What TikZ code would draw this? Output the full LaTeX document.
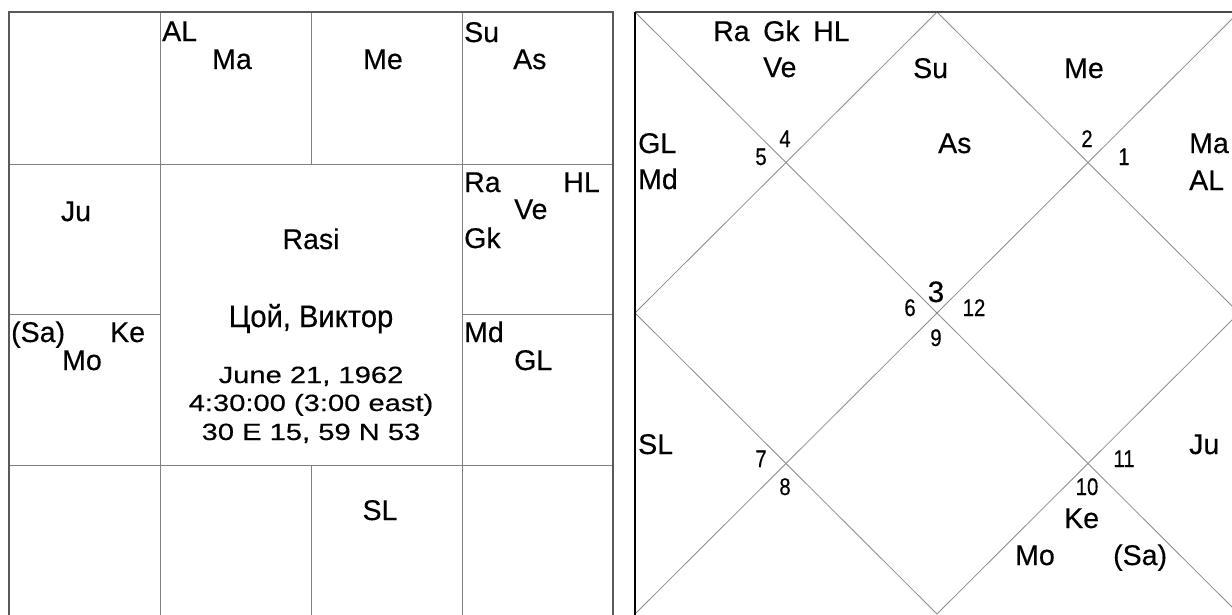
\documentclass[tikz,border=0pt]{standalone}
\usepackage{fontspec}
\setmainfont[FakeBold=0.35]{Liberation Sans}
\usepackage{graphicx}
\newcommand\nmbr[1]{\scalebox{0.85}[1]{#1}}
\newcommand\widetxt[1]{\scalebox{1.24}[1]{#1}}
\newcommand\nametxt[1]{\scalebox{0.94}[1]{#1}}
\tikzset{
  pl/.style={font=\fontsize{28.5}{30}\selectfont, inner sep=0pt, anchor=base west},
  plc/.style={font=\fontsize{28.5}{30}\selectfont, inner sep=0pt, anchor=base},
  plr/.style={font=\fontsize{28.5}{30}\selectfont, inner sep=0pt, anchor=base east},
  num/.style={font=\fontsize{24}{25}\selectfont, inner sep=0pt, anchor=base},
  bignum/.style={font=\fontsize{29.5}{31}\selectfont, inner sep=0pt, anchor=base},
  info/.style={font=\fontsize{23.5}{25}\selectfont, inner sep=0pt, anchor=base},
  namestyle/.style={font=\fontsize{31}{32}\selectfont, inner sep=0pt, anchor=base},
  gridline/.style={draw=black!50, line width=1pt},
  frameline/.style={draw=black!65, line width=2.6pt},
  diagline/.style={draw=black!45, line width=0.8pt},
}
\begin{document}
\begin{tikzpicture}[x=1pt,y=-1pt]
\useasboundingbox (0,0) rectangle (1232,614);
\fill[white] (0,0) rectangle (1232,614);
\begin{scope}
\clip (0,0) rectangle (1232,614);
% ---------- left chart (Rasi, square) ----------
\draw[gridline] (160,12) -- (160,616);
\draw[gridline] (462,12) -- (462,616);
\draw[gridline] (311,12) -- (311,164);
\draw[gridline] (311,465) -- (311,616);
\draw[gridline] (9,164) -- (613,164);
\draw[gridline] (9,465) -- (613,465);
\draw[gridline] (9,314) -- (160,314);
\draw[gridline] (462,314) -- (613,314);
\draw[frameline] (9,12) rectangle (613,616);
% ---------- right chart (diamond) ----------
\coordinate (tl) at (635,12);
\coordinate (tr) at (1239,12);
\coordinate (bl) at (635,614);
\coordinate (br) at (1239,614);
\coordinate (tm) at (937,12);
\coordinate (lm) at (635,313);
\coordinate (bm) at (937,614);
\coordinate (rm) at (1239,313);
\draw[diagline] (tl) -- (br);
\draw[diagline] (bl) -- (tr);
\draw[diagline] (tm) -- (lm) -- (bm) -- (rm) -- cycle;
\draw[draw=black!70, line width=2.4pt] (tl) -- (tr);
\draw[draw=black, line width=2pt] (634.5,12) -- (634.5,615);
\end{scope}
% ---------- left chart labels ----------
\node[pl] (lAL) at (162,41) {AL};
\node[pl] (lMa) at (212,69) {Ma};
\node[plc] (lMe) at (383,69) {Me};
\node[pl] (lSu) at (464,42) {Su};
\node[pl] (lAs) at (513,69) {As};
\node[plc] (lJu) at (76,221) {Ju};
\node[pl] (lSa) at (11,342) {(Sa)};
\node[pl] (lKe) at (110,342) {Ke};
\node[pl] (lMo) at (62,370) {Mo};
\node[pl] (lRa) at (464,192) {Ra};
\node[plr] (lHL) at (600,192) {HL};
\node[pl] (lVe) at (514,219) {Ve};
\node[pl] (lGk) at (464,248) {Gk};
\node[pl] (lMd) at (464,342) {Md};
\node[pl] (lGL) at (514,370) {GL};
\node[plc] (lSL) at (380,520) {SL};
\node[plc] (rasi) at (311,249) {Rasi};
\node[namestyle] (name) at (311,327) {\nametxt{Цой, Виктор}};
\node[info] (date) at (311,383) {\widetxt{June 21, 1962}};
\node[info] (time) at (311,411) {\widetxt{4:30:00 (3:00 east)}};
\node[info] (place) at (311,440) {\widetxt{30 E 15, 59 N 53}};
% ---------- right chart labels ----------
\node[pl] (rRa) at (713,41) {Ra};
\node[pl] (rGk) at (763,41) {Gk};
\node[pl] (rHL) at (813,41) {HL};
\node[pl] (rVe) at (763,77) {Ve};
\node[pl] (rSu) at (913,78) {Su};
\node[pl] (rMe) at (1064,78) {Me};
\node[pl] (rAs) at (938,153) {As};
\node[pl] (rGL) at (638,153) {GL};
\node[pl] (rMd) at (638,189) {Md};
\node[pl] (rMa) at (1189,153) {Ma};
\node[pl] (rAL) at (1189,190) {AL};
\node[pl] (rSL) at (638,454) {SL};
\node[pl] (rJu) at (1189,454) {Ju};
\node[pl] (rKe) at (1064,528) {Ke};
\node[pl] (rMo) at (1015,565) {Mo};
\node[pl] (rSa) at (1113,565) {(Sa)};
% house numbers
\node[num] (n4) at (785,147) {\nmbr{4}};
\node[num] (n5) at (761,165) {\nmbr{5}};
\node[num] (n2) at (1087,147) {\nmbr{2}};
\node[num] (n1) at (1124,165) {\nmbr{1}};
\node[bignum] (n3) at (936,302) {3};
\node[num] (n6) at (910,316) {\nmbr{6}};
\node[num] (n12) at (974,316) {\nmbr{12}};
\node[num] (n9) at (936,346) {\nmbr{9}};
\node[num] (n7) at (761,467) {\nmbr{7}};
\node[num] (n8) at (785,495) {\nmbr{8}};
\node[num] (n11) at (1124,467) {\nmbr{11}};
\node[num] (n10) at (1087,495) {\nmbr{10}};
\end{tikzpicture}
\end{document}
